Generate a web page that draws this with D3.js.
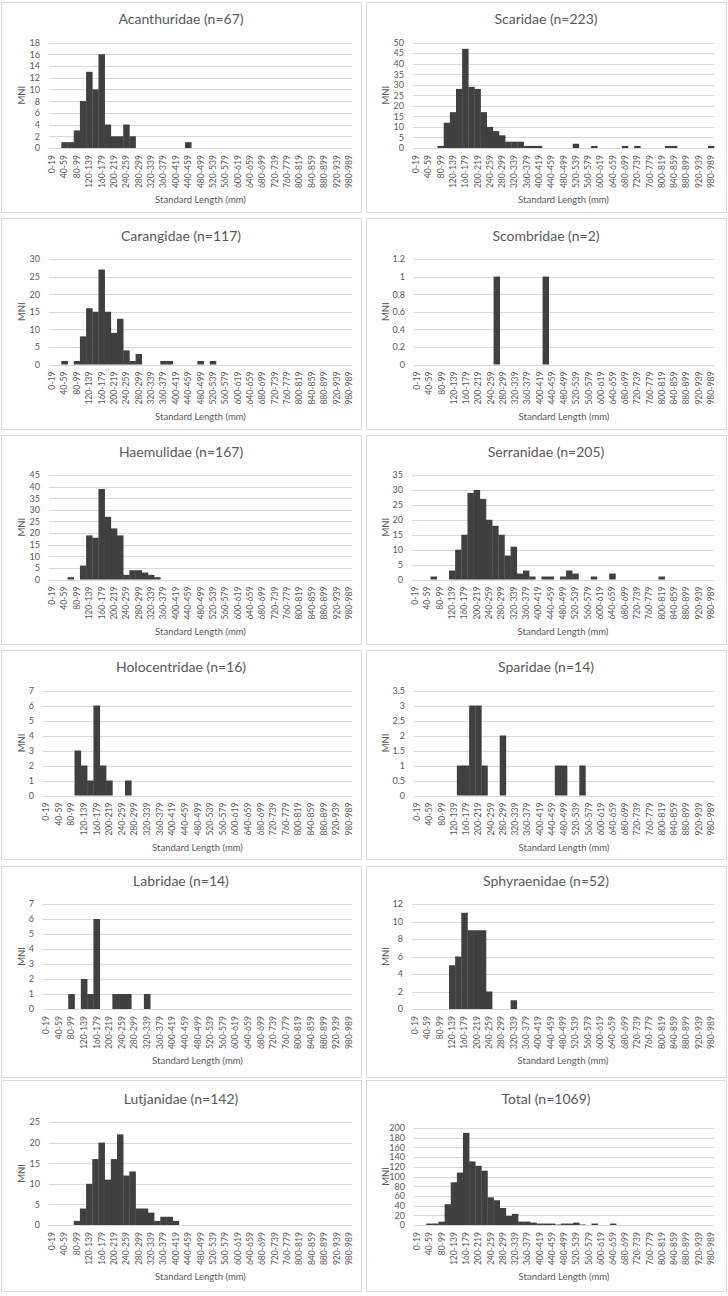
<!DOCTYPE html>
<html>
<head>
<meta charset="utf-8">
<script src="https://cdn.jsdelivr.net/npm/d3@7"></script>
<style>
  html, body { margin: 0; padding: 0; background: #ffffff; }
  svg { display: block; }
  text { font-family: Lato, "Noto Sans", sans-serif; fill: #595959; }
</style>
</head>
<body>
<svg id="chart" width="728" height="1296"></svg>
<script>
// ---------------- DATA ----------------
const categories = [
  "0-19","20-39","40-59","60-79","80-99","100-119","120-139","140-159","160-179","180-199",
  "200-219","220-239","240-259","260-279","280-299","300-319","320-339","340-359","360-379","380-399",
  "400-419","420-439","440-459","460-479","480-499","500-519","520-539","540-559","560-579","580-599",
  "600-619","620-639","640-659","660-679","680-699","700-719","720-739","740-759","760-779","780-799",
  "800-819","820-839","840-859","860-879","880-899","900-919","920-939","940-959","980-989"
];
// every other category is labelled on the axis
const xTickLabels = categories.filter((d, i) => i % 2 === 0);

const families = ["Acanthuridae","Scaridae","Carangidae","Scombridae","Haemulidae","Serranidae",
                  "Holocentridae","Sparidae","Labridae","Sphyraenidae","Lutjanidae","Total"];
const sampleSizes = [67, 223, 117, 2, 167, 205, 16, 14, 14, 52, 142, 1069];
const yMaxValues  = [18, 50, 30, 1.2, 45, 35, 7, 3.5, 7, 12, 25, 200];
const yStepValues = [2, 5, 5, 0.2, 5, 5, 1, 0.5, 1, 2, 5, 20];

//                      0 1 2 3 4 5  6  7  8  9 10 11 12 13 14 15 16 17 18 19 20 21 22 23 24 25 26 27 28 29 30 31 32 33 34 35 36 37 38 39 40 41 42 43 44 45 46 47 48
const acanthuridae  = [0,0,1,1,3,8,13,10,16, 4, 2, 2, 4, 2, 0, 0, 0, 0, 0, 0, 0, 0, 1, 0, 0, 0, 0, 0, 0, 0, 0, 0, 0, 0, 0, 0, 0, 0, 0, 0, 0, 0, 0, 0, 0, 0, 0, 0, 0];
const scaridae      = [0,0,0,0,1,12,17,28,47,29,28,17,10, 8, 6, 3, 3, 3, 1, 1, 1, 0, 0, 0, 0, 0, 2, 0, 0, 1, 0, 0, 0, 0, 1, 0, 1, 0, 0, 0, 0, 1, 1, 0, 0, 0, 0, 0, 1];
const carangidae    = [0,0,1,0,1,8,16,15,27,15, 9,13, 4, 1, 3, 0, 0, 0, 1, 1, 0, 0, 0, 0, 1, 0, 1, 0, 0, 0, 0, 0, 0, 0, 0, 0, 0, 0, 0, 0, 0, 0, 0, 0, 0, 0, 0, 0, 0];
const scombridae    = [0,0,0,0,0,0, 0, 0, 0, 0, 0, 0, 0, 1, 0, 0, 0, 0, 0, 0, 0, 1, 0, 0, 0, 0, 0, 0, 0, 0, 0, 0, 0, 0, 0, 0, 0, 0, 0, 0, 0, 0, 0, 0, 0, 0, 0, 0, 0];
const haemulidae    = [0,0,0,1,0,6,19,18,39,27,22,19, 2, 4, 4, 3, 2, 1, 0, 0, 0, 0, 0, 0, 0, 0, 0, 0, 0, 0, 0, 0, 0, 0, 0, 0, 0, 0, 0, 0, 0, 0, 0, 0, 0, 0, 0, 0, 0];
const serranidae    = [0,0,0,1,0,0, 3,10,15,29,30,27,20,18,15, 8,11, 2, 3, 1, 0, 1, 1, 0, 1, 3, 2, 0, 0, 1, 0, 0, 2, 0, 0, 0, 0, 0, 0, 0, 1, 0, 0, 0, 0, 0, 0, 0, 0];
const holocentridae = [0,0,0,0,0,3, 2, 1, 6, 2, 1, 0, 0, 1, 0, 0, 0, 0, 0, 0, 0, 0, 0, 0, 0, 0, 0, 0, 0, 0, 0, 0, 0, 0, 0, 0, 0, 0, 0, 0, 0, 0, 0, 0, 0, 0, 0, 0, 0];
const sparidae      = [0,0,0,0,0,0, 0, 1, 1, 3, 3, 1, 0, 0, 2, 0, 0, 0, 0, 0, 0, 0, 0, 1, 1, 0, 0, 1, 0, 0, 0, 0, 0, 0, 0, 0, 0, 0, 0, 0, 0, 0, 0, 0, 0, 0, 0, 0, 0];
const labridae      = [0,0,0,0,1,0, 2, 1, 6, 0, 0, 1, 1, 1, 0, 0, 1, 0, 0, 0, 0, 0, 0, 0, 0, 0, 0, 0, 0, 0, 0, 0, 0, 0, 0, 0, 0, 0, 0, 0, 0, 0, 0, 0, 0, 0, 0, 0, 0];
const sphyraenidae  = [0,0,0,0,0,0, 5, 6,11, 9, 9, 9, 2, 0, 0, 0, 1, 0, 0, 0, 0, 0, 0, 0, 0, 0, 0, 0, 0, 0, 0, 0, 0, 0, 0, 0, 0, 0, 0, 0, 0, 0, 0, 0, 0, 0, 0, 0, 0];
const lutjanidae    = [0,0,0,0,1,4,10,16,20,11,16,22,12,13, 4, 4, 3, 1, 2, 2, 1, 0, 0, 0, 0, 0, 0, 0, 0, 0, 0, 0, 0, 0, 0, 0, 0, 0, 0, 0, 0, 0, 0, 0, 0, 0, 0, 0, 0];
const total         = [0,0,3,3,7,43,88,108,190,131,122,112,57,51,35,19,23,7,7,5,3,3,3,1,3,3,5,1,0,3,0,0,3,0,0,0,0,0,0,0,0,0,0,0,0,0,0,0,0];

const seriesValues = [acanthuridae, scaridae, carangidae, scombridae, haemulidae, serranidae,
                      holocentridae, sparidae, labridae, sphyraenidae, lutjanidae, total];

// ---------------- LAYOUT ----------------
const colX = [0, 364];
const boxTop    = [2, 218, 435, 650, 866, 1080];
const boxBottom = [212, 429, 644, 859, 1077, 1291];
const titleBase = [24, 241, 457, 672, 886, 1104];
const plotTopRow    = [42.5, 259, 475, 690.5, 904, 1122];
const plotBottomRow = [148, 364.5, 579.5, 795.5, 1009, 1225];
const plotLeftRel = [49, 49, 49, 50, 49, 48, 43, 50, 43, 48, 49, 50];
const plotRightRel = [352, 350];

const svg = d3.select("#chart");
svg.append("rect").attr("width", 728).attr("height", 1296).attr("fill", "#ffffff");

families.forEach((name, i) => {
  const col = i % 2, row = Math.floor(i / 2);
  const x0 = colX[col];
  const g = svg.append("g");

  // panel border
  g.append("rect")
    .attr("x", x0 + (col ? 2.5 : 1.5)).attr("y", boxTop[row] + 0.5)
    .attr("width", 360).attr("height", boxBottom[row] - boxTop[row])
    .attr("fill", "#ffffff").attr("stroke", "#d9d9d9").attr("stroke-width", 1);

  const left = x0 + plotLeftRel[i];
  const right = x0 + plotRightRel[col];
  const top = (i === 11) ? 1128 : plotTopRow[row];
  const bottom = plotBottomRow[row];

  const x = d3.scaleBand().domain(categories).range([left, right]).padding(0);
  const y = d3.scaleLinear().domain([0, yMaxValues[i]]).range([bottom, top]);
  const nTicks = Math.round(yMaxValues[i] / yStepValues[i]);
  const yTicks = d3.range(0, nTicks + 1).map(k => +(k * yStepValues[i]).toFixed(3));

  // y axis with gridlines
  const yAxis = g.append("g")
    .attr("transform", `translate(${left},0)`)
    .call(d3.axisLeft(y).tickValues(yTicks).tickSize(-(right - left)).tickPadding(9)
      .tickFormat(d => String(d)));
  yAxis.select(".domain").remove();
  yAxis.selectAll(".tick line").attr("stroke", "#d9d9d9").attr("stroke-width", 1)
    .attr("shape-rendering", "crispEdges");
  yAxis.selectAll(".tick text").attr("font-size", 9).attr("font-family", "Lato, sans-serif")
    .style("fill", "#595959");

  // bars
  g.append("g").selectAll("rect")
    .data(seriesValues[i].map((v, k) => ({ cat: categories[k], v })).filter(d => d.v > 0))
    .join("rect")
    .attr("x", d => x(d.cat))
    .attr("width", x.bandwidth() + 0.3)
    .attr("y", d => y(d.v))
    .attr("height", d => y(0) - y(d.v))
    .attr("fill", "#404040");

  // x axis
  const xAxis = g.append("g")
    .attr("transform", `translate(0,${bottom})`)
    .call(d3.axisBottom(x).tickValues(xTickLabels).tickSize(0));
  xAxis.select(".domain").remove();
  xAxis.selectAll(".tick text")
    .attr("transform", "rotate(-90)")
    .attr("x", -7).attr("y", 0).attr("dy", "0.35em")
    .attr("text-anchor", "end")
    .attr("font-size", 8.6).attr("font-family", "Lato, sans-serif")
    .style("fill", "#595959");

  // title
  g.append("text")
    .attr("x", x0 + 181 + (col ? 1 : 0)).attr("y", titleBase[row])
    .attr("text-anchor", "middle").attr("font-size", 14)
    .text(`${name} (n=${sampleSizes[i]})`);

  // y axis title
  g.append("text")
    .attr("transform", `translate(${x0 + 25},${(top + bottom) / 2}) rotate(-90)`)
    .attr("text-anchor", "middle").attr("font-size", 9.5)
    .text("MNI");

  // x axis title
  g.append("text")
    .attr("x", (left + right) / 2).attr("y", bottom + 55)
    .attr("text-anchor", "middle").attr("font-size", 9.5)
    .text("Standard Length (mm)");
});
</script>
</body>
</html>
